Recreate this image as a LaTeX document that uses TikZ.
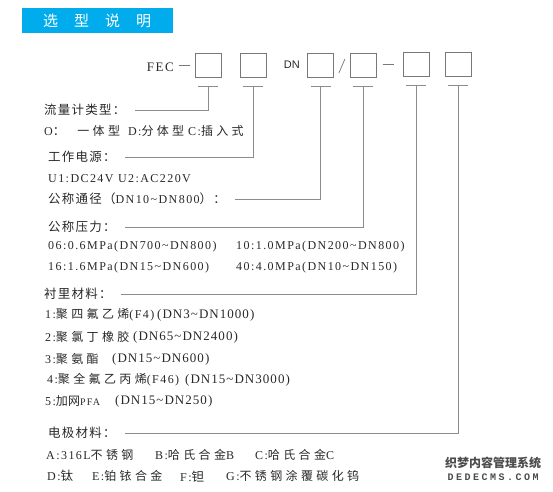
\documentclass[tikz,border=0pt]{standalone}
\usepackage{fontspec}
\setmainfont[LetterSpace=12]{Liberation Serif}
\newfontfamily\zh[LetterSpace=10,Scale=1.04]{Noto Sans CJK SC}
\newfontfamily\zhw[LetterSpace=28]{Noto Sans CJK SC}
\newfontfamily\zhn[LetterSpace=2]{Noto Sans CJK SC}
\newfontfamily\zhtitle{Noto Sans CJK SC}
\newfontfamily\hei{Liberation Sans}
\newfontfamily\dnfont[LetterSpace=8]{Liberation Serif}
\newfontfamily\wmono[LetterSpace=25]{Liberation Mono}
\usepackage{xcolor}
\definecolor{titleblue}{RGB}{0,172,236}
\definecolor{textgray}{RGB}{40,40,40}
\definecolor{linegray}{RGB}{140,140,140}
\definecolor{boxgray}{RGB}{120,120,120}
\usepackage{tikz}

\begin{document}
\begin{tikzpicture}[x=1pt, y=-1pt,
    every node/.style={font=\fontsize{12}{14}\selectfont, text=textgray},
    txt/.style={anchor=west, inner sep=0pt},
    dnr/.style={txt, font=\dnfont\fontsize{13}{14}\selectfont},
    codebox/.style={draw=boxgray, line width=0.8pt, minimum width=26pt, minimum height=24pt, inner sep=0pt},
    lead/.style={draw=linegray, line width=0.9pt}]
  \useasboundingbox (0,0) rectangle (553,491);

  % Title bar
  \fill[titleblue] (22,8) rectangle (173,33);
  \node[txt, text=white, font=\zhtitle\fontsize{15}{15}\selectfont] (title) at (43,21)
    {选\hspace{16pt}型\hspace{16pt}说\hspace{16pt}明};

  % Model code
  \node[anchor=east, inner sep=0pt, font=\fontsize{13}{13}\selectfont] (fec) at (174,67) {FEC};
  \node[codebox] (b1) at (208,65) {};
  \node[codebox] (b2) at (253,65) {};
  \node[anchor=east, inner sep=0pt, font=\hei\fontsize{11}{11}\selectfont] (dn) at (300,65) {DN};
  \node[codebox] (b3) at (320.5,65) {};
  \node[codebox] (b4) at (363,65) {};
  \node[codebox] (b5) at (416,64) {};
  \node[codebox] (b6) at (458,64) {};
  \draw[boxgray, line width=0.7pt] ([xshift=-16pt]b1.west) -- ([xshift=-5pt]b1.west);
  \draw[boxgray, line width=0.7pt] ([xshift=5pt,yshift=-8pt]b3.east) -- ([xshift=11pt,yshift=6pt]b3.east);
  \draw[boxgray, line width=0.7pt] ([xshift=-20pt]b5.west) -- ([xshift=-9pt]b5.west);

  % Labels
  \node[txt] (l1) at (44,110) {\zh 流量计类型：};
  \node[txt] (o1) at (44,131) {O{\zh ：}\hspace{12pt}{\zhw 一体型}\hspace{8pt}D:{\zhw 分体型}\hspace{4pt}C:{\zhw 插入式}};
  \node[txt] (l2) at (48,157) {\zh 工作电源：};
  \node[txt] (u1) at (48,179) {U1:DC24V U2:AC220V};
  \node[txt] (l3) at (48,199) {{\zh 公称通径（}DN10\textasciitilde DN800{\zh ）：}};
  \node[txt] (l4) at (48,227) {\zh 公称压力：};
  \node[txt] (p1) at (48,247) {06:0.6MPa(DN700\textasciitilde DN800)};
  \node[txt] (p2) at (236,247) {10:1.0MPa(DN200\textasciitilde DN800)};
  \node[txt] (p3) at (48,268) {16:1.6MPa(DN15\textasciitilde DN600)};
  \node[txt] (p4) at (236,268) {40:4.0MPa(DN10\textasciitilde DN150)};
  \node[txt] (l5) at (44,294) {\zh 衬里材料：};
  \node[txt] (m1) at (45,315) {1:{\zhw 聚四氟乙烯}(F4)};
  \node[dnr] (m1r) at (157,315) {(DN3\textasciitilde DN1000)};
  \node[txt] (m2) at (45,337) {2:{\zhw 聚氯丁橡胶}};
  \node[dnr] (m2r) at (133,337) {(DN65\textasciitilde DN2400)};
  \node[txt] (m3) at (45,359) {3:{\zhw 聚氨酯}};
  \node[dnr] (m3r) at (112,359) {(DN15\textasciitilde DN600)};
  \node[txt] (m4) at (47,380) {4:{\zhw 聚全氟乙丙烯}(F46)};
  \node[dnr] (m4r) at (185,380) {(DN15\textasciitilde DN3000)};
  \node[txt] (m5) at (45,401) {5:{\zhn 加网}{\fontsize{10}{12}\selectfont PFA}};
  \node[dnr] (m5r) at (115,401) {(DN15\textasciitilde DN250)};
  \node[txt] (l6) at (48,433) {\zh 电极材料：};
  \node[txt] (ea) at (46,455) {A:316L{\zhw 不锈钢}};
  \node[txt] (eb) at (155,455) {B:{\zhw 哈氏合金}B};
  \node[txt] (ec) at (255,455) {C:{\zhw 哈氏合金}C};
  \node[txt] (ed) at (47,476) {D:{\zh 钛}};
  \node[txt] (ee) at (92,476) {E:{\zhw 铂铱合金}};
  \node[txt] (ef) at (180,477) {F:{\zh 钽}};
  \node[txt] (eg) at (226,476) {G:{\zhw 不锈钢涂覆碳化钨}};

  % Leads from boxes to labels
  \foreach \b/\l in {b1/l1, b2/l2, b3/l3, b4/l4, b5/l5, b6/l6} {
    \coordinate (t-\b) at ([yshift=-9pt]\b.south);
    \draw[lead] ([xshift=-10pt]t-\b) -- ([xshift=10pt]t-\b);
    \draw[lead] (t-\b) |- ([xshift=9pt]\l.east);
  }

  % Watermark
  \node[inner sep=0pt, font=\zhtitle\bfseries\fontsize{12}{12}\selectfont, text=black!70] (wm1) at (493,463) {织梦内容管理系统};
  \node[inner sep=0pt, font=\wmono\bfseries\fontsize{10}{10}\selectfont, text=black!70] (wm2) at (493,477) {DEDECMS.COM};
\end{tikzpicture}
\end{document}
